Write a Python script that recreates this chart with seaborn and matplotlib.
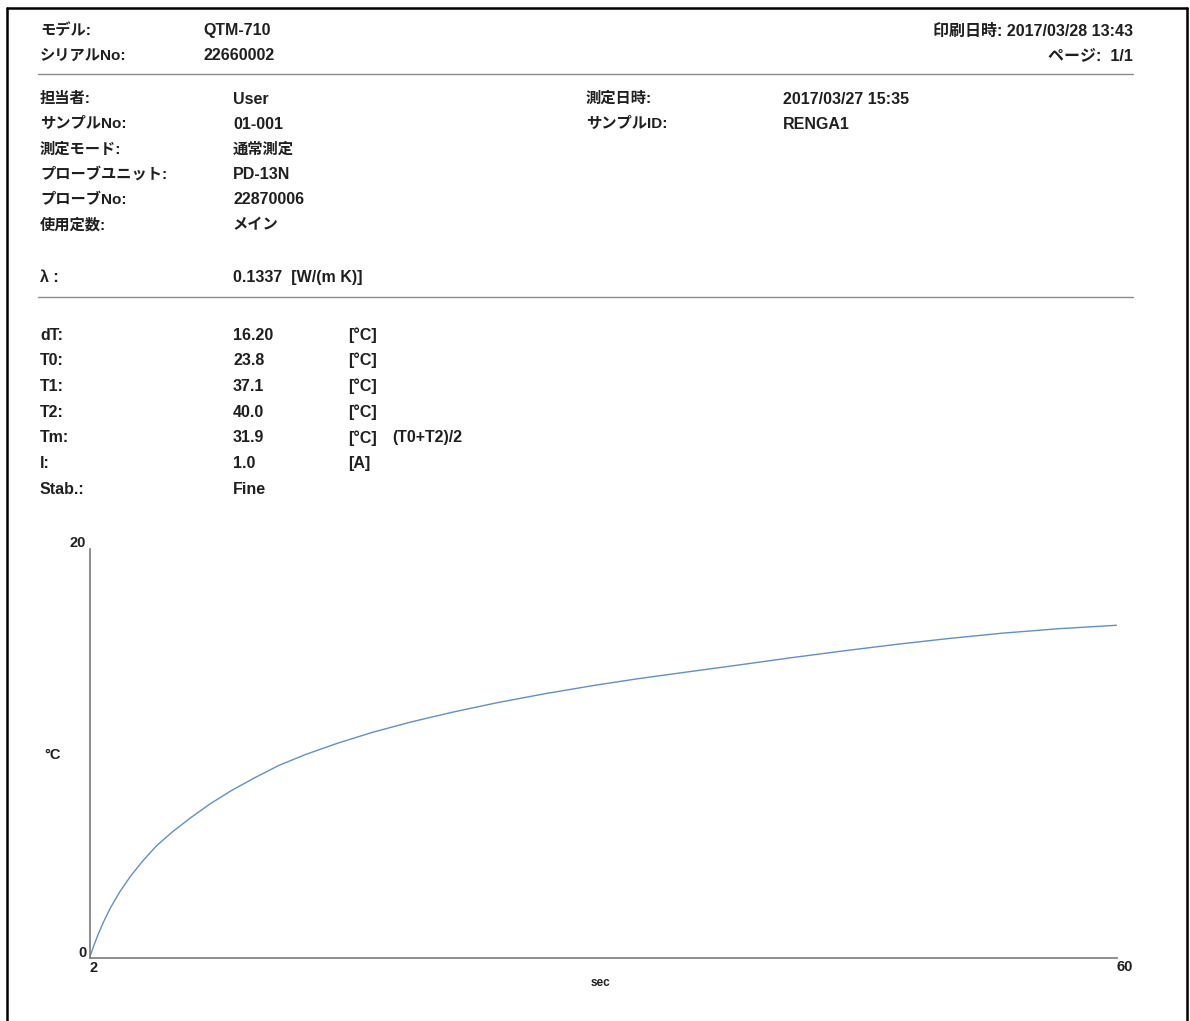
import matplotlib
matplotlib.use('Agg')
import matplotlib.pyplot as plt
from matplotlib.lines import Line2D
import seaborn as sns
import pandas as pd

# 測定データ
time_sec = [2, 2.25, 2.5, 2.8, 3.2, 3.7, 4.3, 5.0, 5.8, 6.7, 7.7, 8.8, 10.0, 11.3, 12.7,
            14.2, 16.0, 18.0, 20.2, 22.5, 25.0, 27.7, 30.5, 33.0, 35.7, 38.6,
            41.6, 44.6, 47.6, 50.5, 53.5, 56.7, 60]
temp_rise = [0, 0.62, 1.18, 1.78, 2.48, 3.22, 3.98, 4.74, 5.5, 6.18, 6.85, 7.53, 8.18, 8.8, 9.42,
             9.95, 10.5, 11.04, 11.55, 12.02, 12.48, 12.92, 13.33, 13.66, 13.98, 14.32,
             14.68, 15.02, 15.34, 15.62, 15.88, 16.1, 16.27]

# ヘッダー情報
top_labels = ['モデル:', 'シリアルNo:']
top_values = ['QTM-710', '22660002']
print_info = ['印刷日時: 2017/03/28 13:43', 'ページ:  1/1']

info_labels = ['担当者:', 'サンプルNo:', '測定モード:', 'プローブユニット:', 'プローブNo:', '使用定数:']
info_values = ['User', '01-001', '通常測定', 'PD-13N', '22870006', 'メイン']
info_labels_r = ['測定日時:', 'サンプルID:']
info_values_r = ['2017/03/27 15:35', 'RENGA1']

result_labels = ['dT:', 'T0:', 'T1:', 'T2:', 'Tm:', 'I:', 'Stab.:']
result_values = ['16.20', '23.8', '37.1', '40.0', '31.9', '1.0', 'Fine']
result_units = ['[°C]', '[°C]', '[°C]', '[°C]', '[°C]', '[A]', '']

sns.set_theme(style='white')
plt.rcParams['font.family'] = ['Liberation Sans', 'Noto Sans CJK JP', 'DejaVu Sans']
plt.rcParams['axes.unicode_minus'] = False

W, H = 1190, 1021
fig = plt.figure(figsize=(W / 100, H / 100), dpi=100)
fig.patch.set_facecolor('white')

TXT = dict(fontweight='bold', color='#1f1f1f', va='center')


def put(x, y, s, **kw):
    opts = dict(TXT)
    # 英数字だけの文字列は少し大きめ
    opts['fontsize'] = 11.5 if all(ord(c) < 0x3000 for c in s) else 11
    opts.update(kw)
    fig.text(x / W, 1 - y / H, s, **opts)


def hline(y, x0=38, x1=1133):
    fig.add_artist(Line2D([x0 / W, x1 / W], [1 - y / H, 1 - y / H],
                          transform=fig.transFigure, color='#8c8c8c', lw=1.0))


# ページ枠
for xs, ys in [([7, 7], [8, 1030]), ([7, 1187], [8, 8]), ([1187, 1187], [8, 1030])]:
    fig.add_artist(Line2D([x / W for x in xs], [1 - y / H for y in ys],
                          transform=fig.transFigure, color='black', lw=1.8))

# ヘッダー
for i, (lab, val) in enumerate(zip(top_labels, top_values)):
    y = 31 + i * 25
    put(40, y, lab)
    put(203, y, val)
for i, s in enumerate(print_info):
    put(1133, 31 + i * 25, s, ha='right', fontsize=11.5)
hline(74)

for i, (lab, val) in enumerate(zip(info_labels, info_values)):
    y = 99 + i * 25.2
    put(40, y, lab)
    put(233, y, val)
for i, (lab, val) in enumerate(zip(info_labels_r, info_values_r)):
    y = 99 + i * 25.2
    put(586, y, lab)
    put(783, y, val)

put(40, 277, 'λ :')
put(233, 277, '0.1337  [W/(m K)]')
hline(297)

for i, (lab, val, unit) in enumerate(zip(result_labels, result_values, result_units)):
    y = 335 + i * 25.7
    put(40, y, lab)
    put(233, y, val)
    if unit:
        put(348, y, unit)
put(392, 335 + 4 * 25.7, '(T0+T2)/2')

# グラフ
ax = fig.add_axes([89.5 / W, 1 - 958 / H, (1116.5 - 89.5) / W, (958 - 549) / H])
df = pd.DataFrame({'sec': time_sec, 'dT': temp_rise})
sns.lineplot(data=df, x='sec', y='dT', ax=ax, color='#6190c4', linewidth=1.0)

ax.set_xlim(2, 60)
ax.set_ylim(0, 20)
ax.set_xticks([])
ax.set_yticks([])
sns.despine(ax=ax)
for sp in ['left', 'bottom']:
    ax.spines[sp].set_color('#7a7a7a')
    ax.spines[sp].set_linewidth(1.2)
ax.set_facecolor('none')

lab_kw = dict(fontsize=10.5, fontweight='bold', color='#1f1f1f', textcoords='offset points')
ax.annotate('20', xy=(2, 20), xytext=(-2.5, 4.3), ha='right', va='center', **lab_kw)
ax.annotate('0', xy=(2, 0), xytext=(-1.8, 3.6), ha='right', va='center', **lab_kw)
ax.annotate('2', xy=(2, 0), xytext=(3.2, -7.2), ha='center', va='center', **lab_kw)
ax.annotate('60', xy=(60, 0), xytext=(6.2, -6.5), ha='center', va='center', **lab_kw)

ax.set_xlabel('sec', fontsize=8.5, fontweight='bold', color='#1f1f1f', va='center')
ax.xaxis.set_label_coords(0.4973, -0.061)
ax.set_ylabel('°C', fontsize=10.5, fontweight='bold', color='#1f1f1f',
              rotation=0, ha='center', va='center')
ax.yaxis.set_label_coords(-0.0356, 0.496)

fig.savefig('out.png', dpi=100, facecolor='white')
